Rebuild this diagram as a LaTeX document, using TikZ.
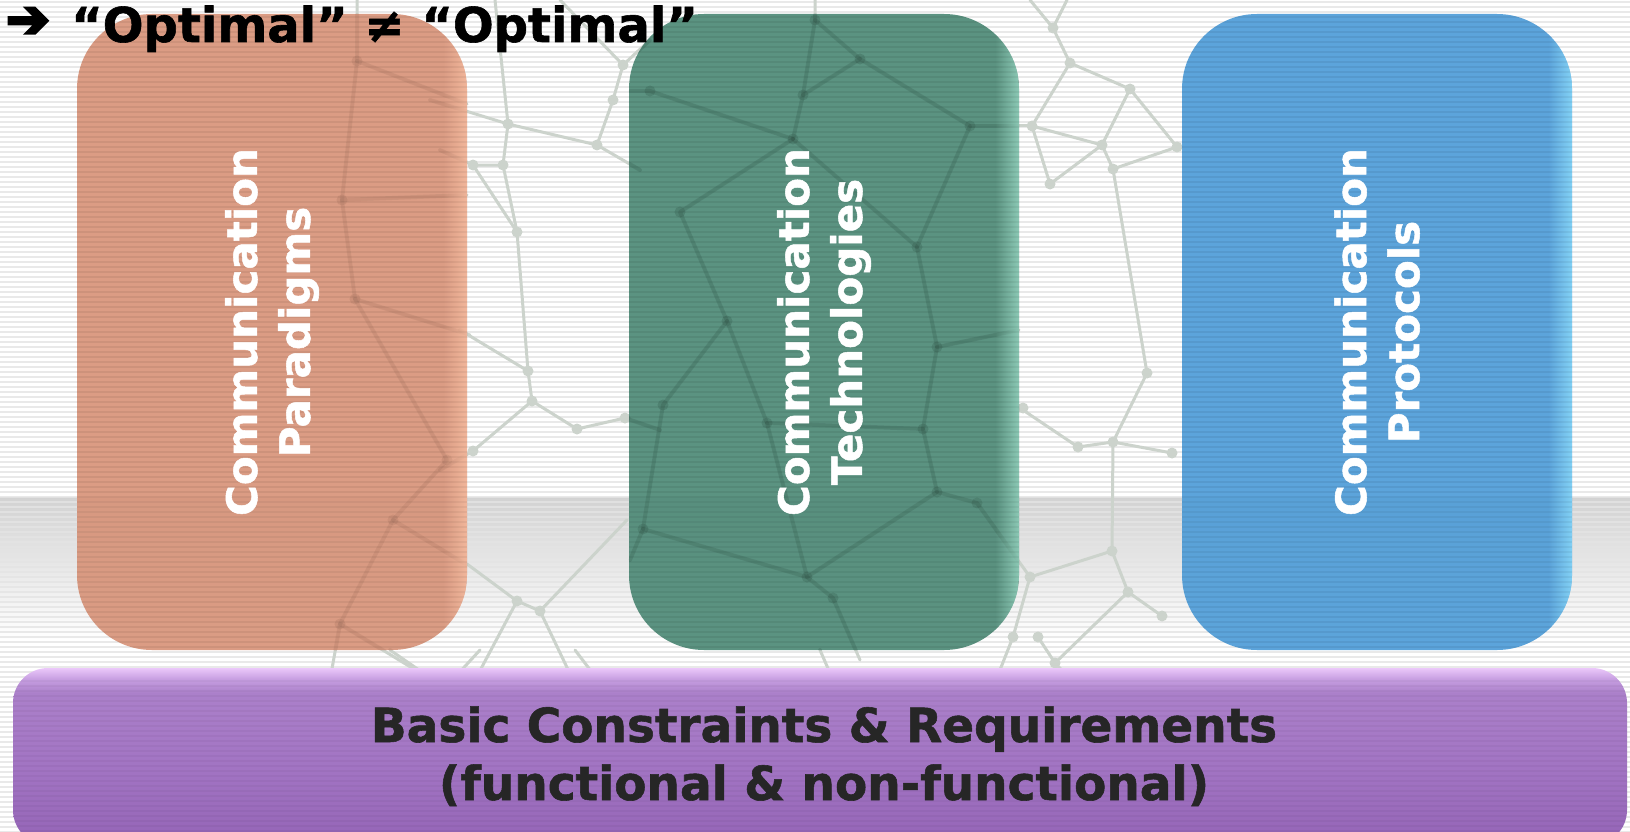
\documentclass[tikz,border=0pt]{standalone}
\usepackage{fontspec}
\setmainfont[BoldFeatures={FakeBold=1.2}]{DejaVu Sans}
\newfontfamily\arrowfont[FakeBold=6]{DejaVu Sans}
\usetikzlibrary{fadings}
\definecolor{netgray}{HTML}{CCD3CC}
\definecolor{stripe}{HTML}{E4E4E4}
\definecolor{bandtop}{HTML}{D2D2D2}
\definecolor{bandmid}{HTML}{E6E6E6}
\definecolor{boxorange}{HTML}{D8947A}
\definecolor{hiorange}{HTML}{F6BCA0}
\definecolor{boxgreen}{HTML}{4E8A77}
\definecolor{higreen}{HTML}{95D3BF}
\definecolor{boxblue}{HTML}{4F9DD8}
\definecolor{hiblue}{HTML}{8ADAFB}
\definecolor{purptop}{HTML}{EBC8FA}
\definecolor{purphi}{HTML}{C8A0E2}
\definecolor{purpmid}{HTML}{AB80CA}
\definecolor{purplow}{HTML}{A173C2}
\definecolor{purpbot}{HTML}{9464B6}
\definecolor{bartext}{HTML}{262626}
\pgfdeclareverticalshading{barshade}{100bp}{color(0bp)=(purpbot); color(25bp)=(purpbot);
  color(45bp)=(purplow); color(68bp)=(purpmid); color(72bp)=(purphi);
  color(75bp)=(purptop); color(100bp)=(purptop)}
\tikzfading[name=rimfade, left color=transparent!100, right color=transparent!0]
\tikzset{
  netline/.style={draw=netgray, line width=3pt, line join=round, line cap=round},
  netdot/.style={fill=netgray},
  pillar/.style={rounded corners=75pt, fill opacity=0.92},
  pillartext/.style={rotate=90, align=center, text=white,
    font=\fontsize{42}{53}\selectfont\bfseries},
  titletext/.style={font=\fontsize{48}{58}\selectfont\bfseries, text=black, inner sep=0pt},
  bartextstyle/.style={font=\fontsize{47}{58}\selectfont\bfseries, text=bartext, inner sep=0pt}
}
% the decorative mesh, drawn with whatever netline / netdot mean at the time
\newcommand\meshpaths{%
\draw[netline] (495,0) -- (508,124) -- (503,165) -- (517,232) -- (528,371) -- (532,401) -- (577,429) -- (625,418) -- (660,430);
\draw[netline] (503,165) -- (473,165) -- (440,150);
\draw[netline] (473,165) -- (517,232);
\draw[netline] (430,100) -- (508,124) -- (597,145) -- (613,100) -- (623,65) -- (650,40);
\draw[netline] (560,0) -- (623,65);
\draw[netline] (597,145) -- (640,170);
\draw[netline] (460,330) -- (528,371);
\draw[netline] (532,401) -- (473,451) -- (440,470);
\draw[netline] (467,564) -- (517,601) -- (540,611) -- (627,520);
\draw[netline] (540,611) -- (573,680);
\draw[netline] (517,601) -- (475,680);
\draw[netline] (357,0) -- (357,61) -- (342,200) -- (355,299) -- (447,460) -- (393,520) -- (340,624) -- (330,680);
\draw[netline] (357,61) -- (467,104);
\draw[netline] (342,200) -- (467,195);
\draw[netline] (355,299) -- (470,335);
\draw[netline] (393,520) -- (467,565);
\draw[netline] (340,624) -- (445,688) -- (480,650);
\draw[netline] (390,650) -- (445,688);
\draw[netline] (575,650) -- (607,692);
\draw[netline] (815,0) -- (815,20) -- (803,95) -- (793,139) -- (680,212) -- (727,321) -- (663,405) -- (643,529) -- (630,560);
\draw[netline] (815,20) -- (860,59) -- (970,126) -- (917,247) -- (937,347) -- (923,429) -- (937,492) -- (977,503) -- (1030,577);
\draw[netline] (630,91) -- (650,91) -- (793,139);
\draw[netline] (860,59) -- (803,95);
\draw[netline] (727,321) -- (767,423) -- (923,429);
\draw[netline] (767,423) -- (807,577) -- (833,598) -- (860,660);
\draw[netline] (643,529) -- (807,577) -- (937,492);
\draw[netline] (793,139) -- (917,247);
\draw[netline] (937,347) -- (1019,330);
\draw[netline] (970,126) -- (1032,126);
\draw[netline] (1067,0) -- (1053,28) -- (1070,63) -- (1130,89) -- (1177,147) -- (1113,169) -- (1147,373) -- (1113,442) -- (1112,551) -- (1128,592) -- (1162,616);
\draw[netline] (1070,63) -- (1032,126) -- (1102,145) -- (1130,89);
\draw[netline] (1032,126) -- (1050,184) -- (1102,145) -- (1113,169);
\draw[netline] (1020,408) -- (1078,447) -- (1113,442) -- (1172,453);
\draw[netline] (1112,551) -- (1030,577) -- (1013,637) -- (996,680);
\draw[netline] (1128,592) -- (1055,663) -- (1038,637);
\draw[netline] (1055,663) -- (1076,685);
\draw[netline] (1030,0) -- (1053,28);
\draw[netline] (820,650) -- (833,680);
\foreach \p in {(508,124),(503,165),(473,165),(517,232),(528,371),(532,401),(577,429),(625,418),
  (473,451),(597,145),(613,100),(623,65),(517,601),(540,611),(357,61),(342,200),(355,299),
  (447,460),(393,520),(340,624),(445,688),(607,692),(815,20),(860,59),(803,95),(650,91),
  (970,126),(793,139),(680,212),(917,247),(727,321),(937,347),(767,423),(663,405),(923,429),
  (937,492),(807,577),(833,598),(643,529),(977,503),(1053,28),(1070,63),(1130,89),(1032,126),
  (1102,145),(1113,169),(1050,184),(1177,147),(1147,373),(1113,442),(1078,447),(1023,408),
  (1172,453),(1112,551),(1030,577),(1128,592),(1162,616),(1013,637),(1038,637),(1055,663),
  (833,680),(996,680),(1076,685)}
  \fill[netdot] \p circle (5.5pt);
}
\begin{document}
\begin{tikzpicture}[x=1pt,y=-1pt]
\useasboundingbox (0,0) rectangle (1630,832);
\clip (0,0) rectangle (1630,832);

% backdrop: soft floor band, then fine horizontal stripes
\fill[white] (0,0) rectangle (1630,832);
\shade[top color=bandtop, bottom color=bandmid] (0,497) rectangle (1630,560);
\shade[top color=bandmid, bottom color=white] (0,560) rectangle (1630,640);
\foreach \y in {1,6,...,832} \fill[stripe, opacity=0.8] (0,\y) rectangle (1630,\y+2);

% faint mesh behind everything
\meshpaths

% three pillars; the mesh shows through as darker lines, plus a light rim on the right
\foreach \x/\c/\h/\m in {77/boxorange/hiorange/0.05, 629/boxgreen/higreen/0.09, 1182/boxblue/hiblue/0.04}{
  \fill[pillar, fill=\c] (\x,14) rectangle (\x+390,650);
  \begin{scope}
    \clip[rounded corners=75pt] (\x,14) rectangle (\x+390,650);
    \begin{scope}[netline/.style={draw=black, opacity=\m, line width=4pt, line join=round, line cap=round},
                  netdot/.style={fill=black, opacity=\m}]
      \meshpaths
    \end{scope}
    \fill[\h, path fading=rimfade, fill opacity=0.85] (\x+366,14) rectangle (\x+390,650);
    \foreach \y in {16,21,...,650} \fill[black, opacity=0.05] (\x,\y) rectangle (\x+390,\y+2);
  \end{scope}
}
\node[pillartext] (paradigms) at (272,332) {Communication\\Paradigms};
\node[pillartext] (technologies) at (824,332) {Communication\\Technologies};
\node[pillartext] (protocols) at (1377,332) {Communication\\Protocols};

% base bar
\shade[rounded corners=35pt, shading=barshade] (13,668) rectangle (1627,845);
\begin{scope}
  \clip[rounded corners=35pt] (13,668) rectangle (1627,845);
  \foreach \y in {680,685,...,832} \fill[black, opacity=0.035] (13,\y) rectangle (1627,\y+2);
\end{scope}
\node[bartextstyle, anchor=base] (bar1) at (824,742) {Basic Constraints \& Requirements};
\node[bartextstyle, anchor=base] (bar2) at (824,800) {(functional \& non-functional)};

% heading
\node[titletext, anchor=base west, font=\fontsize{52}{60}\selectfont] (arrow) at (6,37) {\arrowfont ➔};
\node[titletext, anchor=base west] (title) at (71,42) {“Optimal” ≠ “Optimal”};
\end{tikzpicture}
\end{document}
